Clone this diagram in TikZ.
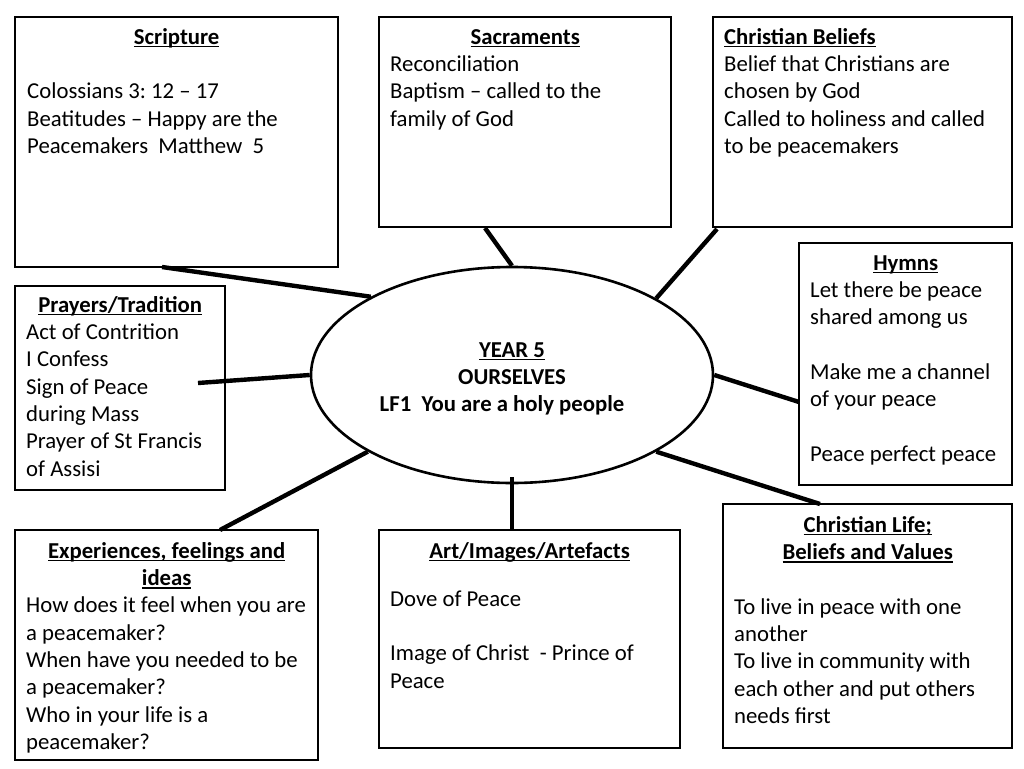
\documentclass[tikz,border=0pt]{standalone}
\usepackage{fontspec}
\setmainfont{Carlito}
\usetikzlibrary{shapes.geometric}
\newsavebox\ulbox
\newcommand\myul[1]{\leavevmode\sbox\ulbox{#1}\rlap{\rule[-3pt]{\wd\ulbox}{1.4pt}}\usebox\ulbox}
\newcommand\ttl[1]{\myul{\textbf{#1}}}
\tikzset{
  box/.style={draw, line width=2.6pt, inner sep=0, fill=white},
  txt/.style={anchor=north west, inner sep=0, font=\fontsize{22.75}{27.3}\selectfont,
    execute at begin node={\spaceskip=0pt\xspaceskip=0pt\frenchspacing}},
  link/.style={line width=4.4pt},
}
\begin{document}
\begin{tikzpicture}[x=1pt,y=-1pt]
\useasboundingbox (0,0) rectangle (1024,768);
\fill[white] (0,0) rectangle (1024,768);
% ellipse
\node[ellipse, draw, line width=2.6pt, minimum width=402, minimum height=216, inner sep=0] (ell) at (512,375) {};
\node[inner sep=0, font=\fontsize{22.75}{27.3}\selectfont\bfseries, align=center, anchor=north] (ctr) at (512,337.9)
  {\strut\myul{YEAR 5}\\OURSELVES\\LF1\ \ You are a holy people\kern20pt};
% boxes
\node[box, minimum width=323, minimum height=250] (scr) at (176.5,142) {};
\node[box, minimum width=292, minimum height=210] (sac) at (525,122) {};
\node[box, minimum width=299, minimum height=210] (bel) at (862.5,122) {};
\node[box, minimum width=213, minimum height=242] (hym) at (905.5,364) {};
\node[box, minimum width=210, minimum height=204] (pra) at (120,388) {};
\node[box, minimum width=303, minimum height=230] (exp) at (166.5,645) {};
\node[box, minimum width=301, minimum height=218] (art) at (529.5,639) {};
\node[box, minimum width=289, minimum height=244] (lif) at (867.5,626) {};
% texts
\node[txt, text width=299] (tscr) at (27,24.9) {{\centering\strut\ttl{Scripture}\par}\raggedright\strut\\Colossians 3: 12 -- 17\\Beatitudes -- Happy are the\\Peacemakers\ \ Matthew\ \ 5};
\node[txt, text width=270] (tsac) at (390,24.9) {{\centering\strut\ttl{Sacraments}\par}\raggedright Reconciliation\\Baptism -- called to the\\family of God};
\node[txt, text width=280] (tbel) at (724,24.9) {\raggedright\strut\ttl{Christian Beliefs}\\Belief that Christians are\\chosen by God\\Called to holiness and called\\to be peacemakers};
\node[txt, text width=191] (thym) at (810,250.9) {{\centering\strut\ttl{Hymns}\par}\raggedright Let there be peace\\shared among us\\\strut\\Make me a channel\\of your peace\\\strut\\Peace perfect peace};
\node[txt, text width=188] (tpra) at (26,292.9) {{\centering\strut\ttl{Prayers/Tradition}\par}\raggedright Act of Contrition\\I Confess\\Sign of Peace\\during Mass\\Prayer of St Francis\\of Assisi};
\node[txt, text width=281] (texp) at (26,538.9) {{\centering\strut\ttl{Experiences, feelings and}\par\ttl{ideas}\par}\raggedright How does it feel when you are\\a peacemaker?\\When have you needed to be\\a peacemaker?\\Who in your life is a\\peacemaker?};
\node[txt, text width=279] (tart) at (390,538.9) {{\centering\strut\ttl{Art/Images/Artefacts}\par}\vspace{20.7pt}\raggedright Dove of Peace\\\strut\\Image of Christ\ \ - Prince of\\Peace};
\node[txt, text width=267] (tlif) at (734,512.9) {{\centering\strut\ttl{Christian Life;}\par\ttl{Beliefs and Values}\par}\raggedright\strut\\To live in peace with one\\another\\To live in community with\\each other and put others\\needs first};
% connector ends on boxes
\coordinate (cscr) at (162,267);
\coordinate (csac) at (485,228);
\coordinate (cbel) at (717,229);
\coordinate (chym) at (799,402);
\coordinate (cpra) at (198,383);
\coordinate (cexp) at (220,530);
\coordinate (cart) at (512,530);
\coordinate (clif) at (820,504);
\coordinate (eart) at (512,477);
% connectors
\draw[link] (cscr) -- (ell.151.5);
\draw[link] (csac) -- (ell.90);
\draw[link] (cbel) -- (ell.28.3);
\draw[link] (chym) -- (ell.0);
\draw[link] (cpra) -- (ell.180);
\draw[link] (cexp) -- (ell.208.8);
\draw[link] (eart) -- (cart);
\draw[link] (clif) -- (ell.-28.6);
\end{tikzpicture}
\end{document}
